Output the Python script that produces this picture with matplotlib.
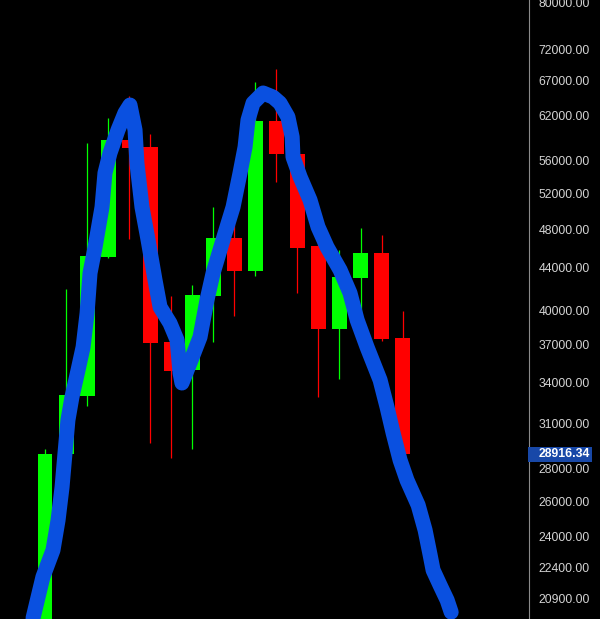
import numpy as np
import matplotlib.pyplot as plt
from matplotlib.patches import Rectangle

# monthly candles
opens  = [19700, 28900, 32960, 45040, 58660, 57730, 37210, 34940, 41280,
          47040, 43670, 61200, 56820, 46210, 38330, 42990, 45480, 37550]
closes = [28925, 33040, 45170, 58660, 57600, 37130, 34860, 41370, 47040,
          43670, 61200, 56820, 46000, 38330, 43090, 45480, 37470, 28916.34]
highs  = [29240, 41920, 58260, 61640, 64770, 59460, 41280, 42310, 50440,
          48500, 66840, 68830, 59060, 47000, 45790, 48100, 47360, 39900]
lows   = [19000, 28700, 32220, 44940, 46940, 29650, 28660, 29250, 37210,
          39460, 43180, 53340, 41560, 32880, 34240, 39540, 37300, 28600]

# hand drawn blue stroke (x in candle units, y in price)
stroke_x = [-0.57, -0.10, 0.38, 0.62, 0.81, 0.95, 1.09, 1.28, 1.57, 1.81, 2.00,
            2.14, 2.38, 2.71, 2.85, 3.09, 3.47, 3.80, 4.04, 4.28, 4.37, 4.61,
            4.90, 5.23, 5.47, 5.94, 6.28, 6.42, 6.51, 6.89, 7.37, 7.70, 7.99,
            8.46, 8.94, 9.27, 9.51, 9.65, 9.89, 10.37, 10.84, 11.17, 11.55,
            11.75, 11.79, 12.13, 12.60, 12.98, 13.41, 14.03, 14.50, 14.84,
            15.31, 15.93, 16.26, 16.55, 16.88, 17.21, 17.74, 18.07, 18.31,
            18.45, 18.78, 19.12, 19.31]
stroke_y = [19990, 21930, 23300, 24920, 26850, 28980, 31220, 32880, 34940,
            36800, 39730, 43470, 46090, 50440, 54450, 56970, 60000, 62340,
            63470, 60000, 55690, 50440, 46830, 42800, 40270, 38840, 37380,
            34710, 33940, 35500, 37640, 40910, 43470, 46830, 50440, 54450,
            57740, 61350, 63750, 65210, 64620, 63750, 61780, 59050, 56460,
            53970, 51240, 48230, 46090, 43770, 41560, 39110, 36800, 34170,
            32150, 30320, 28530, 27270, 25780, 24370, 23040, 22270, 21530,
            20810, 20260]

ticks = [80000, 72000, 67000, 62000, 56000, 52000, 48000, 44000, 40000,
         37000, 34000, 31000, 28000, 26000, 24000, 22400, 20900]
last_price = 28916.34

plt.rcParams['font.family'] = ['Liberation Sans', 'DejaVu Sans']

fig = plt.figure(figsize=(6, 6.25), dpi=100, facecolor='black')
# white strip along the bottom edge
fig.patches.append(Rectangle((0, 0), 1, 6/625, transform=fig.transFigure,
                             facecolor='white', edgecolor='none', zorder=5))
ax = fig.add_axes([0, 6/625, 529/600, 619/625])
ax.set_facecolor('black')

x = np.arange(len(opens))
up = np.array(closes) >= np.array(opens)
cols = np.where(up, '#00ff00', '#ff0000')
ax.vlines(x, lows, highs, colors=cols, lw=0.9, zorder=1)
bottoms = np.minimum(opens, closes)
heights = np.abs(np.array(closes) - np.array(opens))
ax.bar(x, heights, bottom=bottoms, width=0.71, color=cols, lw=0, zorder=2)

ax.plot(stroke_x, stroke_y, color='#0a50e0', lw=10.8, solid_capstyle='round',
        solid_joinstyle='round', zorder=3)

ax.set_yscale('log')
ax.set_ylim(19950, 80400)
ax.set_xlim(-2.14, 23.01)
ax.yaxis.tick_right()
ax.set_yticks(ticks)
ax.set_yticklabels(['%.2f' % t for t in ticks])
ax.minorticks_off()
ax.tick_params(axis='y', length=0, pad=7, colors='#d4d4d4', labelsize=8.8)
ax.set_xticks([])
for s in ['top', 'left', 'bottom']:
    ax.spines[s].set_visible(False)
ax.spines['right'].set_color('#8a8a8a')
ax.spines['right'].set_linewidth(0.8)

# last price tag on the scale
py = ax.transData.transform((0, last_price))[1]
fig.patches.append(Rectangle((528/600, (py - 7.5)/625), 64/600, 15/625,
                             transform=fig.transFigure, facecolor='#1848a8',
                             edgecolor='none', zorder=4))
fig.text(539/600, py/625, '%.2f' % last_price, color='white', fontsize=8.8,
         fontweight='bold', ha='left', va='center', zorder=6)

fig.savefig('out.png', dpi=100, facecolor=fig.get_facecolor())
